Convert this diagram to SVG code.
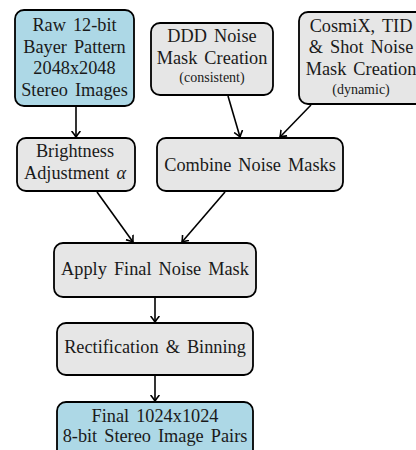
<svg xmlns="http://www.w3.org/2000/svg" width="416" height="450" viewBox="0 0 416 450">
<style>
.box{stroke:#000;stroke-width:1.8}
.blue{fill:#add8e6}
.gray{fill:#e6e6e6}
text{font-family:"Liberation Serif","Times New Roman",serif;font-size:18.3px;fill:#1a1a1a;text-anchor:middle;word-spacing:2.5px}
.small{font-size:14px;word-spacing:0}
.conn line{stroke:#000;stroke-width:1.6;fill:none;marker-end:url(#arr)}
</style>
<defs>
<marker id="arr" markerUnits="userSpaceOnUse" markerWidth="12" markerHeight="12" viewBox="-6 -6 12 12" refX="0" refY="0" orient="auto">
<path d="M-5.5,-4 Q-2,-1.2 0,0 Q-2,1.2 -5.5,4" fill="none" stroke="#000" stroke-width="1.6" stroke-linecap="round"/>
</marker>
</defs>
<rect width="416" height="450" fill="#fff"/>
<g id="conn" class="conn">
<line x1="76" y1="107" x2="76" y2="137"/>
<line x1="228" y1="96" x2="240" y2="137"/>
<line x1="311" y1="105" x2="280" y2="137"/>
<line x1="97" y1="192" x2="133" y2="242"/>
<line x1="225" y1="192" x2="182" y2="242"/>
<line x1="155" y1="298" x2="155" y2="322"/>
<line x1="155" y1="376" x2="155" y2="401"/>
</g>
<g id="raw">
<rect class="box blue" x="15" y="10" width="119" height="96" rx="9"/>
<text x="74.5" y="31">Raw 12-bit</text>
<text x="74.5" y="52.5">Bayer Pattern</text>
<text x="74.5" y="74">2048x2048</text>
<text x="74.5" y="95.5">Stereo Images</text>
</g>
<g id="ddd">
<rect class="box gray" x="151" y="23" width="122" height="72" rx="9"/>
<text x="212" y="42">DDD Noise</text>
<text x="212" y="63.5">Mask Creation</text>
<text class="small" x="212" y="82">(consistent)</text>
</g>
<g id="cosmix">
<rect class="box gray" x="299" y="12" width="126" height="92" rx="9"/>
<text x="361" y="31.5">CosmiX, TID</text>
<text x="361" y="53">&amp; Shot Noise</text>
<text x="361" y="74.5">Mask Creation</text>
<text class="small" x="361" y="94">(dynamic)</text>
</g>
<g id="brightness">
<rect class="box gray" x="17" y="138" width="118" height="53" rx="9"/>
<text x="75" y="157">Brightness</text>
<text x="75" y="179">Adjustment <tspan font-style="italic">α</tspan></text>
</g>
<g id="combine">
<rect class="box gray" x="157" y="138" width="186" height="53" rx="9"/>
<text x="250" y="171">Combine Noise Masks</text>
</g>
<g id="apply">
<rect class="box gray" x="54" y="243" width="202" height="54" rx="9"/>
<text x="155" y="275">Apply Final Noise Mask</text>
</g>
<g id="rect">
<rect class="box gray" x="57" y="323" width="196" height="52" rx="9"/>
<text x="155" y="353">Rectification &amp; Binning</text>
</g>
<g id="final">
<rect class="box blue" x="57" y="402" width="196" height="60" rx="9"/>
<text x="155" y="422">Final 1024x1024</text>
<text x="155" y="442">8-bit Stereo Image Pairs</text>
</g>
</svg>
